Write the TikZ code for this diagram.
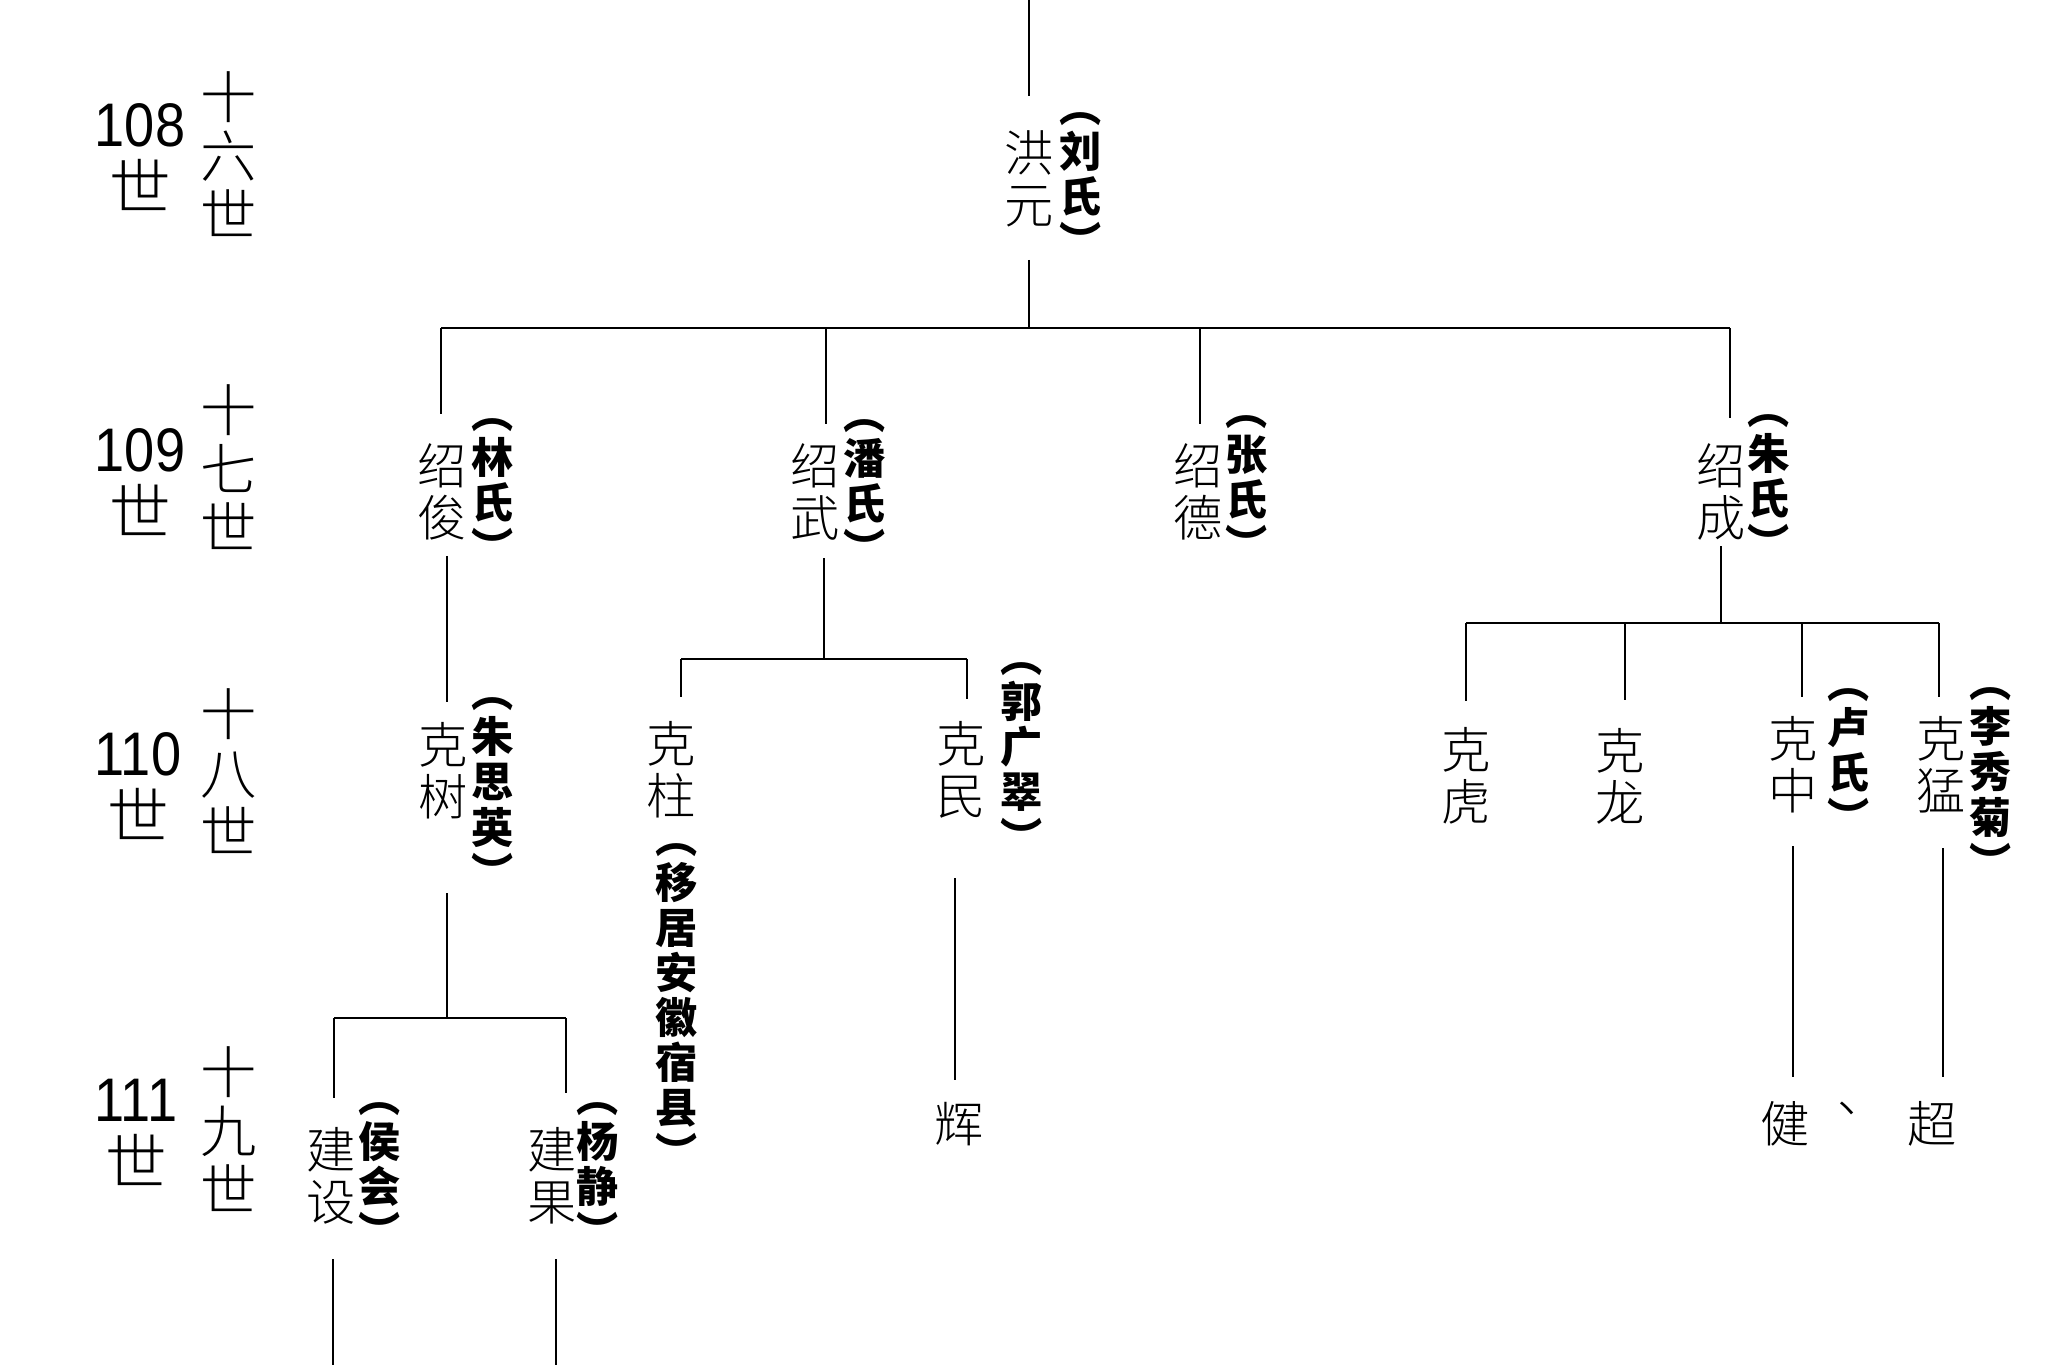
\documentclass[tikz,border=0pt]{standalone}
\usepackage{fontspec}
\setmainfont{Liberation Sans}[FakeStretch=0.88]
\newfontfamily\cjk{Noto Sans CJK SC}
\IfFontExistsTF{Noto Sans CJK SC Light}{\newfontfamily\cjkl{Noto Sans CJK SC Light}}{\newfontfamily\cjkl{Noto Sans CJK SC}}
\begin{document}
\begin{tikzpicture}[x=0.01cm,y=-0.01cm,
  nm/.style={inner sep=0pt, align=center, font=\cjkl\fontsize{14}{14.8}\selectfont},
  sp/.style={inner sep=0pt, align=center, font=\cjk\bfseries\fontsize{12}{12.8}\selectfont},
  gen/.style={inner sep=0pt, align=center, font=\fontsize{17.5}{18.2}\selectfont},
  genc/.style={inner sep=0pt, align=center, font=\cjkl\fontsize{16}{16.7}\selectfont},
  ln/.style={line width=0.75pt}]
\useasboundingbox (0,0) rectangle (2048,1365);
\fill[white] (0,0) rectangle (2048,1365);

% generation labels
\node[gen] (g108) at (140,157) {108\\{\cjkl 世}};
\node[genc] (c108) at (229,154) {十\\六\\世};
\node[gen] (g109) at (140,482) {109\\{\cjkl 世}};
\node[genc] (c109) at (229,467) {十\\七\\世};
\node[gen] (g110) at (138,786) {110\\{\cjkl 世}};
\node[genc] (c110) at (229,771) {十\\八\\世};
\node[gen] (g111) at (136,1132) {111\\{\cjkl 世}};
\node[genc] (c111) at (229,1129) {十\\九\\世};

% 16th
\node[nm] (hy) at (1029,179) {洪\\元};
\node[sp] (hys) at (1081,185) {︵\\刘\\氏\\︶};
% 17th
\node[nm] (sj) at (442,492) {绍\\俊};
\node[sp] (sjs) at (493,491) {︵\\林\\氏\\︶};
\node[nm] (sw) at (815,492) {绍\\武};
\node[sp] (sws) at (865,492) {︵\\潘\\氏\\︶};
\node[nm] (sd) at (1198,492) {绍\\德};
\node[sp] (sds) at (1247,488) {︵\\张\\氏\\︶};
\node[nm] (sc) at (1721,492) {绍\\成};
\node[sp] (scs) at (1769,487) {︵\\朱\\氏\\︶};
% 18th
\node[nm] (ks) at (443,771) {克\\树};
\node[sp] (kss) at (493,793) {︵\\朱\\思\\英\\︶};
\node[nm] (kz) at (671,770) {克\\柱};
\node[sp] (kzn) at (677,1006) {︵\\移\\居\\安\\徽\\宿\\县\\︶};
\node[nm] (km) at (961,770) {克\\民};
\node[sp] (kms) at (1022,758) {︵\\郭\\广\\翠\\︶};
\node[nm] (kh) at (1466,776) {克\\虎};
\node[nm] (kl) at (1620,776) {克\\龙};
\node[nm] (kc) at (1793,765) {克\\中};
\node[sp] (kcs) at (1849,761) {︵\\卢\\氏\\︶};
\node[nm] (kg) at (1941,765) {克\\猛};
\node[sp] (kgs) at (1991,783) {︵\\李\\秀\\菊\\︶};
% 19th
\node[nm] (js) at (331,1176) {建\\设};
\node[sp] (jss) at (380,1175) {︵\\侯\\会\\︶};
\node[nm] (jg) at (552,1176) {建\\果};
\node[sp] (jgs) at (598,1175) {︵\\杨\\静\\︶};
\node[nm] (hui) at (959,1124) {辉};
\node[nm] (jian) at (1785,1124) {健};
\node[nm] (dun) at (1862,1108) {、};
\node[nm] (chao) at (1932,1124) {超};

% connectors
\coordinate (top) at (1029,0);
\draw[ln, shorten >=0.34cm] (top) -- (top |- hy.north);
\coordinate (b1) at (1029,328);
\coordinate (b1l) at (441,328);
\coordinate (b1w) at (826,328);
\coordinate (b1d) at (1200,328);
\coordinate (b1r) at (1730,328);
\draw[ln, shorten <=0.32cm] (hy.south) -- (b1);
\draw[ln] (b1l) -- (b1r);
\draw[ln, shorten >=0.29cm] (b1l) -- (b1l |- sj.north);
\draw[ln, shorten >=0.19cm] (b1w) -- (b1w |- sw.north);
\draw[ln, shorten >=0.19cm] (b1d) -- (b1d |- sd.north);
\draw[ln, shorten >=0.25cm] (b1r) -- (b1r |- sc.north);

% 绍俊 line
\coordinate (j4) at (447,1018);
\draw[ln, shorten <=0.15cm, shorten >=0.20cm] (j4 |- sj.south) -- (j4 |- ks.north);
\draw[ln, shorten <=0.73cm] (j4 |- ks.south) -- (j4);
\coordinate (b4l) at (334,1018);
\coordinate (b4r) at (566,1018);
\draw[ln] (b4l) -- (b4r);
\draw[ln, shorten >=0.29cm] (b4l) -- (b4l |- js.north);
\draw[ln, shorten >=0.34cm] (b4r) -- (b4r |- jg.north);
\coordinate (e1) at (333,1365);
\coordinate (e2) at (556,1365);
\draw[ln, shorten <=0.34cm] (e1 |- js.south) -- (e1);
\draw[ln, shorten <=0.34cm] (e2 |- jg.south) -- (e2);

% 绍武 line
\coordinate (j2) at (824,659);
\coordinate (b2l) at (681,659);
\coordinate (b2r) at (967,659);
\draw[ln, shorten <=0.17cm] (j2 |- sw.south) -- (j2);
\draw[ln] (b2l) -- (b2r);
\draw[ln, shorten >=0.24cm] (b2l) -- (b2l |- kz.north);
\draw[ln, shorten >=0.22cm] (b2r) -- (b2r |- km.north);
\draw[ln, shorten <=0.59cm, shorten >=0.22cm] ([xshift=-0.06cm]km.south) -- ([xshift=-0.06cm]km.south |- hui.north);

% 绍成 line
\coordinate (j3) at (1721,623);
\coordinate (b3a) at (1466,623);
\coordinate (b3b) at (1625,623);
\coordinate (b3c) at (1802,623);
\coordinate (b3d) at (1939,623);
\draw[ln, shorten <=0.05cm] (j3 |- sc.south) -- (j3);
\draw[ln] (b3a) -- (b3d);
\draw[ln, shorten >=0.26cm] (b3a) -- (b3a |- kh.north);
\draw[ln, shorten >=0.27cm] (b3b) -- (b3b |- kl.north);
\draw[ln, shorten >=0.19cm] (b3c) -- (b3c |- kc.north);
\draw[ln, shorten >=0.19cm] (b3d) -- (b3d |- kg.north);
\draw[ln, shorten <=0.32cm, shorten >=0.24cm] (kc.south) -- (kc.south |- jian.north);
\draw[ln, shorten <=0.34cm, shorten >=0.24cm] ([xshift=0.02cm]kg.south) -- ([xshift=0.02cm]kg.south |- chao.north);
\end{tikzpicture}
\end{document}
